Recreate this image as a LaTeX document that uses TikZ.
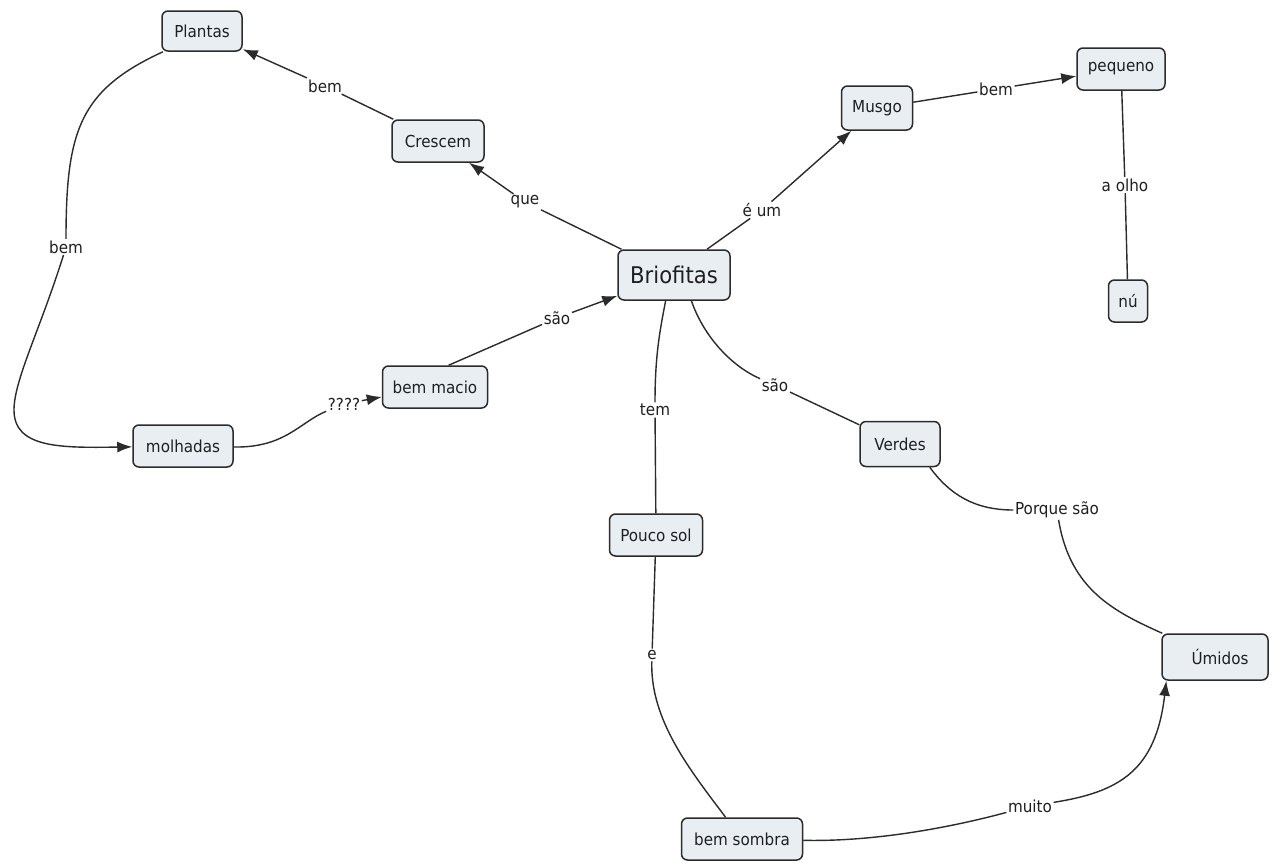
\documentclass[tikz,border=0pt]{standalone}
\usepackage{fontspec}
\setmainfont{DejaVu Sans}[FakeStretch=0.92]
\usetikzlibrary{arrows.meta}
\definecolor{boxfill}{HTML}{E9EEF3}
\definecolor{edgecol}{HTML}{2B2B2B}
\definecolor{ink}{HTML}{1F1F1F}

\begin{document}
\begin{tikzpicture}[x=1pt,y=-1pt,
  concept/.style={draw=edgecol, fill=boxfill, rounded corners=6pt, line width=1.5pt,
    minimum height=42pt, inner sep=0pt, text=ink, font=\fontsize{16.5}{18}\selectfont},
  link/.style={fill=white, inner sep=1.5pt, text=ink, font=\fontsize{16.5}{18}\selectfont},
  conn/.style={draw=edgecol, line width=1.4pt},
  arr/.style={conn, -{Latex[length=15pt,width=11pt]}}]

\useasboundingbox[fill=white] (0,0) rectangle (1279,865);

% concepts
\node[concept, minimum width=80pt, minimum height=40pt] (plantas) at (202,31) {Plantas};
\node[concept, minimum width=92pt] (crescem) at (438,141) {Crescem};
\node[concept, minimum width=112pt, minimum height=50pt, font=\fontsize{23}{26}\selectfont] (briof) at (674,275) {Briofitas};
\node[concept, minimum width=71pt, minimum height=44pt] (musgo) at (877,108) {Musgo};
\node[concept, minimum width=88pt] (pequeno) at (1121,69) {pequeno};
\node[concept, minimum width=39pt] (nu) at (1128,301) {nú};
\node[concept, minimum width=105pt] (macio) at (435,387) {bem macio};
\node[concept, minimum width=100pt] (molhadas) at (183,446) {molhadas};
\node[concept, minimum width=80pt, minimum height=45pt] (verdes) at (900,444) {Verdes};
\node[concept, minimum width=93pt] (pouco) at (656,535) {Pouco sol};
\node[concept, minimum width=106pt, minimum height=46pt] (umidos) at (1215,657) {\hspace*{10pt}Úmidos};
\node[concept, minimum width=121pt] (sombra) at (742,839) {bem sombra};

% linking phrases
\node[link] (l1) at (325,86) {bem};
\node[link] (l2) at (525,202) {que};
\node[link] (l3) at (66,247) {bem};
\node[link] (l4) at (344,404) {????};
\node[link] (l5) at (557,318) {são};
\node[link] (l6) at (762,210) {é um};
\node[link] (l7) at (996,89) {bem};
\node[link] (l8) at (1125,185) {a olho};
\node[link] (l9) at (655,410) {tem};
\node[link] (l10) at (775,385) {são};
\node[link] (l11) at (1057,510) {Porque são};
\node[link] (l12) at (652,655) {e};
\node[link] (l13) at (1030,806) {muito};

% connectors
\draw[arr] (crescem) -- (l1) -- (plantas);
\draw[arr] (briof) -- (l2) -- (crescem);
\draw[arr] (plantas.208) .. controls (80,90) and (66,130) .. (l3)
  .. controls (40,330) and (14,380) .. (14,410)
  .. controls (14,448) and (60,448) .. (molhadas);
\draw[arr] (molhadas) .. controls (285,448) and (300,422) .. (l4) -- (macio);
\draw[arr] (macio.58) -- (l5) -- (briof);
\draw[arr] (briof.38) -- (l6) -- (musgo);
\draw[arr] (musgo) -- (l7) -- (pequeno);
\draw[conn] (pequeno) -- (l8) -- (nu);
\draw[conn] (briof.252) .. controls (660,330) and (655,355) .. (l9) -- (pouco);
\draw[conn] (briof.304) .. controls (705,340) and (735,368) .. (l10) -- (verdes);
\draw[conn] (verdes.322) .. controls (950,495) and (975,510) .. (l11)
  .. controls (1070,590) and (1115,612) .. (umidos);
\draw[conn] (pouco) -- (l12) .. controls (650,720) and (690,770) .. (sombra);
\draw[arr] (sombra) .. controls (880,842) and (960,825) .. (l13)
  .. controls (1120,792) and (1156,770) .. (umidos.206);
\end{tikzpicture}
\end{document}
